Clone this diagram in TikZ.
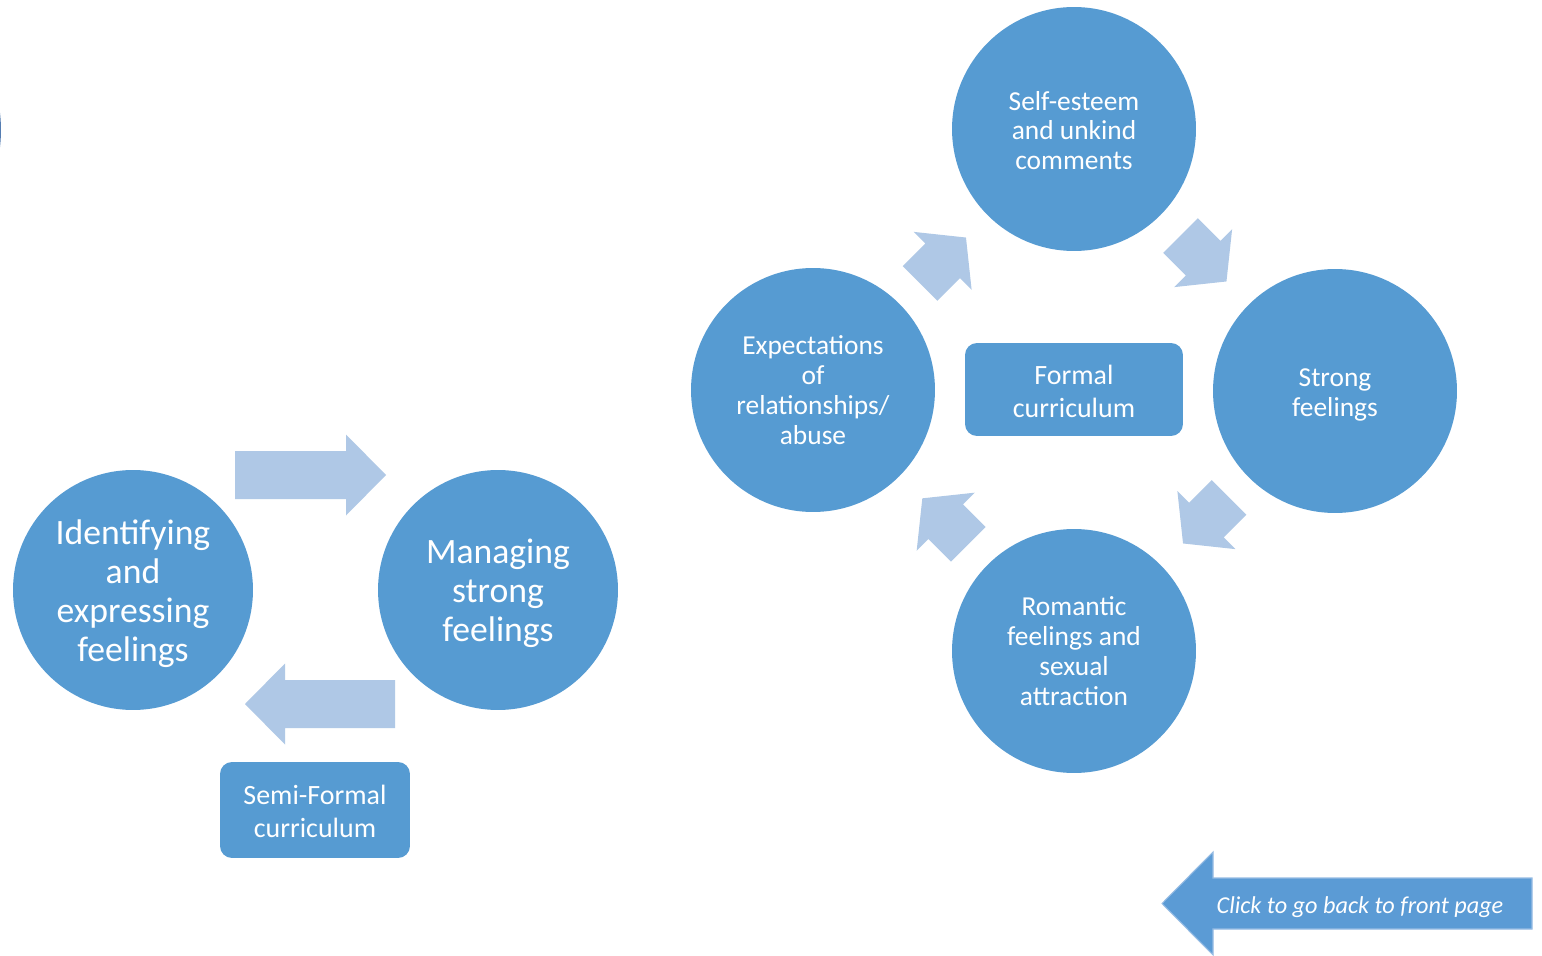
\documentclass[tikz,border=0pt]{standalone}
\usepackage{fontspec}
\setmainfont{Carlito}
\definecolor{cblue}{RGB}{86,155,210}
\definecolor{clight}{RGB}{175,200,230}
\definecolor{cback}{RGB}{91,155,213}
\definecolor{cbackline}{RGB}{150,188,228}
\definecolor{cedge}{RGB}{85,125,178}
\newcommand\blockarr[7]{%
  \begin{scope}[shift={(#1)}, rotate=#2]
    \path[#7] (0,-#5) -- (#3-#4,-#5) -- (#3-#4,-#6) -- (#3,0) -- (#3-#4,#6) -- (#3-#4,#5) -- (0,#5) -- cycle;
  \end{scope}}
\newcommand\txtlines[2]{\raisebox{-#1}[\height][\depth]{\begin{tabular}{@{}c@{}}#2\end{tabular}}}
\tikzset{
  bubble/.style={circle, fill=cblue, minimum size=4.88cm, inner sep=0pt, text=white,
    font=\fontsize{15.6}{17}\selectfont},
  bigbubble/.style={bubble, minimum size=4.8cm, font=\fontsize{20.3}{22.2}\selectfont},
  cbox/.style={rectangle, rounded corners=0.24cm, fill=cblue, text=white, inner sep=0pt,
    font=\fontsize{15.9}{18.7}\selectfont},
  lightarr/.style={fill=clight},
  backarr/.style={fill=cback, draw=cbackline, line width=0.6pt},
}
\begin{document}
\begin{tikzpicture}[x=0.02cm, y=-0.02cm]
\useasboundingbox (0,0) rectangle (1542,956);
\clip (0,0) rectangle (1542,956);
\fill[white] (0,0) rectangle (1542,956);
% partial shape at left edge
\node[circle, fill=cedge, minimum size=6cm, inner sep=0pt] (edge) at (-149,130) {};
% left diagram
\node[bigbubble] (ident) at (133,590) {\txtlines{3.0pt}{Identifying\\and\\expressing\\feelings}};
\node[bigbubble] (manage) at (498,590) {\txtlines{2.9pt}{Managing\\strong\\feelings}};
\node[cbox, minimum width=3.8cm, minimum height=1.92cm] (semi) at (315,810) {\txtlines{2.3pt}{Semi-Formal\\curriculum}};
\blockarr{235,475}{0}{151}{40}{24}{40.5}{lightarr}
\blockarr{395,704}{180}{150}{40}{24}{40.5}{lightarr}
% right diagram
\node[bubble] (self) at (1074,129) {\txtlines{2.8pt}{Self-esteem\\and unkind\\comments}};
\node[bubble] (expect) at (813,390) {\txtlines{1.9pt}{Expectations\\of\\relationships/\\abuse}};
\node[bubble] (strong) at (1335,391) {\txtlines{2.8pt}{Strong\\feelings}};
\node[bubble] (romantic) at (1074,651) {\txtlines{2.0pt}{Romantic\\feelings and\\sexual\\attraction}};
\node[cbox, minimum width=4.36cm, minimum height=1.86cm] (formal) at (1074,389.5) {\txtlines{2.8pt}{Formal\\curriculum}};
\blockarr{920,283.5}{45}{65}{33}{24.5}{41}{lightarr}
\blockarr{1180.5,235.5}{-45}{65}{33}{24.5}{41}{lightarr}
\blockarr{1229,497.5}{-135}{65}{33}{24.5}{41}{lightarr}
\blockarr{968.3,544.3}{135}{65}{33}{24.5}{41}{lightarr}
% back arrow
\blockarr{1532,903.5}{180}{370}{51}{25.5}{51.5}{backarr}
\node[text=white, font=\fontsize{13.8}{16}\selectfont\itshape] (back) at (1360,907) {Click to go back to front page};
\end{tikzpicture}
\end{document}
